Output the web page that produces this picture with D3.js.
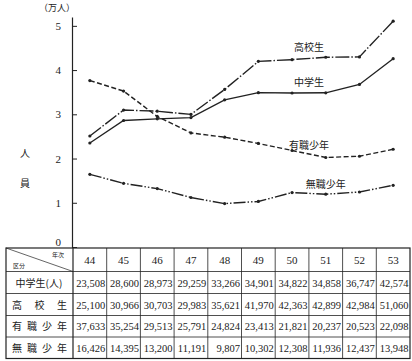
<!DOCTYPE html>
<html><head><meta charset="utf-8">
<script src="https://cdn.jsdelivr.net/npm/d3@7"></script>
<style>
body{margin:0;background:#fff;}
svg{display:block;}
text{font-family:"Liberation Serif","DejaVu Serif","Noto Sans CJK JP",serif;fill:#222;}
.cjk{font-family:"Noto Sans CJK JP",sans-serif;}
</style></head><body>
<script>
const years = ["44","45","46","47","48","49","50","51","52","53"];
const juniorHigh = [23508,28600,28973,29259,33266,34901,34822,34858,36747,42574];
const highSchool = [25100,30966,30703,29983,35621,41970,42363,42899,42984,51060];
const employed   = [37633,35254,29513,25791,24824,23413,21821,20237,20523,22098];
const unemployed = [16426,14395,13200,11191,9807,10302,12308,11936,12437,13948];
const yTicks = [0,1,2,3,4,5];
const seriesNames = ["中学生","高校生","有職少年","無職少年"];
const rowLabels = ["中学生(人)","高校生","有職少年","無職少年"];

const W=412,H=361;
const svg=d3.select("body").append("svg").attr("width",W).attr("height",H);
const ink="#222";

const x=d3.scaleBand().domain(years).range([73,410]);
const cx=d=>x(d)+x.bandwidth()/2;
const y=d3.scaleLinear().domain([0,5.2]).range([247,17]);

// y axis
const ax=svg.append("g").attr("transform","translate(72,0)")
  .call(d3.axisLeft(y).tickValues(yTicks).tickSizeInner(-5).tickSizeOuter(0).tickPadding(11).tickFormat(d3.format("d")));
ax.select(".domain").attr("stroke",ink).attr("stroke-width",1.2);
ax.selectAll(".tick line").attr("stroke",ink);
ax.selectAll(".tick text").attr("font-size",11).attr("fill",ink)
  .attr("font-family","Liberation Serif,serif")
  .attr("dy",d=>d===0?"-0.1em":"0.32em");

svg.append("text").attr("class","cjk").attr("x",57).attr("y",11).attr("text-anchor","middle")
  .attr("font-size",9).text("（万人）");
svg.append("text").attr("class","cjk").attr("x",25).attr("y",157).attr("text-anchor","middle")
  .attr("font-size",10).text("人");
svg.append("text").attr("class","cjk").attr("x",25).attr("y",187).attr("text-anchor","middle")
  .attr("font-size",10).text("員");

// series
const series=[
 {name:seriesNames[0],vals:juniorHigh,dash:null,lx:"50",lx2:"51",off:7},
 {name:seriesNames[1],vals:highSchool,dash:"14,2,1.5,2",lx:"50",lx2:"51",off:7},
 {name:seriesNames[2],vals:employed,dash:"5,2.5",lx:"50",lx2:"51",off:5},
 {name:seriesNames[3],vals:unemployed,dash:"12,2,1.5,2,1.5,2",lx:"51",lx2:"51",off:6},
];
const line=d3.line().x((v,i)=>cx(years[i])).y(v=>y(v/10000));
series.forEach(s=>{
  svg.append("path").attr("d",line(s.vals)).attr("fill","none").attr("stroke",ink)
    .attr("stroke-width",1.4).attr("stroke-dasharray",s.dash);
  svg.append("g").selectAll("circle").data(s.vals).join("circle")
    .attr("cx",(v,i)=>cx(years[i])).attr("cy",v=>y(v/10000)).attr("r",1.6).attr("fill",ink);
  const i1=years.indexOf(s.lx), i2=years.indexOf(s.lx2);
  const lxp=(cx(s.lx)+cx(s.lx2))/2;
  const lyv=(s.vals[i1]+s.vals[i2])/2/10000;
  svg.append("text").attr("class","cjk").attr("x",lxp).attr("y",y(lyv)-s.off)
    .attr("text-anchor","middle").attr("font-size",10).text(s.name);
});

// table
const rowsY=[248,271.5,293.5,315.5,337,358.5];
const tbl=svg.append("g").attr("stroke",ink).attr("fill","none");
tbl.append("rect").attr("x",6).attr("y",rowsY[0]).attr("width",410-6).attr("height",rowsY[5]-rowsY[0]).attr("stroke-width",1.2);
rowsY.slice(1,5).forEach(r=>tbl.append("line").attr("x1",6).attr("x2",410).attr("y1",r).attr("y2",r).attr("stroke-width",0.8));
tbl.append("line").attr("x1",73).attr("x2",73).attr("y1",rowsY[0]).attr("y2",rowsY[5]).attr("stroke-width",1.2);
years.slice(1).forEach(yr=>tbl.append("line").attr("x1",x(yr)).attr("x2",x(yr)).attr("y1",rowsY[0]).attr("y2",rowsY[5]).attr("stroke-width",0.8));
tbl.append("line").attr("x1",6).attr("y1",rowsY[0]).attr("x2",73).attr("y2",rowsY[1]).attr("stroke-width",0.7);
svg.append("text").attr("class","cjk").attr("x",58).attr("y",257).attr("text-anchor","middle").attr("font-size",6).text("年次");
svg.append("text").attr("class","cjk").attr("x",19).attr("y",268).attr("text-anchor","middle").attr("font-size",6).text("区分");

years.forEach(yr=>svg.append("text").attr("x",cx(yr)).attr("y",(rowsY[0]+rowsY[1])/2+4)
  .attr("text-anchor","middle").attr("font-size",11).text(yr));

const tableData=[juniorHigh,highSchool,employed,unemployed];
const fmt=d3.format(",");
tableData.forEach((vals,r)=>{
  const ym=(rowsY[r+1]+rowsY[r+2])/2+4;
  const lab=rowLabels[r];
  if(r===0){
    svg.append("text").attr("class","cjk").attr("x",39).attr("y",ym).attr("text-anchor","middle")
      .attr("font-size",10).text(lab);
  } else {
    const chars=Array.from(lab);
    const x0=17, x1=62;
    chars.forEach((c,k)=>svg.append("text").attr("class","cjk")
      .attr("x",x0+(x1-x0)*k/(chars.length-1)).attr("y",ym).attr("text-anchor","middle")
      .attr("font-size",10).text(c));
  }
  vals.forEach((v,i)=>svg.append("text").attr("x",x(years[i])+x.bandwidth()-1.5).attr("y",ym)
    .attr("text-anchor","end").attr("font-size",10.5).text(fmt(v)));
});
</script></body></html>
